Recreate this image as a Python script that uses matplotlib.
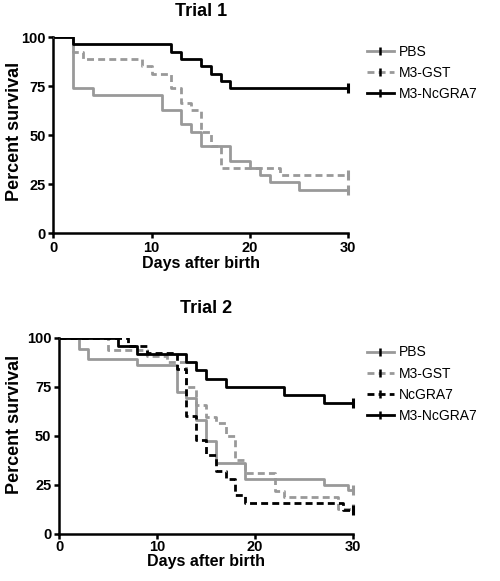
import matplotlib
matplotlib.use("Agg")
import matplotlib.pyplot as plt
from matplotlib.lines import Line2D

plt.rcParams['font.family'] = ['Liberation Sans', 'DejaVu Sans']

# === Trial 1 data (days, percent survival) ===
t1_pbs_days = [0, 2, 4, 11, 13, 14, 15, 18, 20, 21, 22, 25, 30]
t1_pbs_surv = [100, 74.1, 70.4, 63.0, 55.6, 51.9, 44.4, 37.0, 33.3, 29.6, 25.9, 22.2, 22.2]
t1_gst_days = [0, 2, 3, 9, 10, 12, 13, 14, 15, 16, 17, 23, 30]
t1_gst_surv = [100, 92.6, 88.9, 85.2, 81.5, 74.1, 66.7, 63.0, 51.9, 44.4, 33.3, 29.6, 29.6]
t1_m3gra7_days = [0, 2, 12, 13, 15, 16, 17, 18, 30]
t1_m3gra7_surv = [100, 96.3, 92.6, 88.9, 85.2, 81.5, 77.8, 74.1, 74.1]

# === Trial 2 data ===
t2_pbs_days = [0, 2, 3, 8, 12, 13, 14, 15, 16, 19, 27, 29.5, 30]
t2_pbs_surv = [100, 94.4, 88.9, 86.1, 72.2, 69.4, 58.3, 47.2, 36.1, 27.8, 25.0, 22.2, 22.2]
t2_gst_days = [0, 5, 9, 11, 13, 14, 15, 16, 17, 18, 19, 22, 23, 28.5, 30]
t2_gst_surv = [100, 93.8, 90.6, 87.5, 75.0, 65.6, 59.4, 56.3, 50.0, 37.5, 31.3, 21.9, 18.8, 12.5, 12.5]
t2_gra7_days = [0, 7, 9, 12, 13, 14, 15, 16, 17, 18, 19, 29, 30]
t2_gra7_surv = [100, 96, 92, 84, 60, 48, 40, 32, 28, 20, 16, 12, 12]
t2_m3gra7_days = [0, 6, 8, 13, 14, 15, 17, 23, 27, 30]
t2_m3gra7_surv = [100, 95.8, 91.7, 87.5, 83.3, 79.2, 75.0, 70.8, 66.7, 66.7]

GRAY = "#999999"
styles = {
    "PBS": dict(color=GRAY, ls="-"),
    "M3-GST": dict(color=GRAY, ls=(0, (2.5, 1.5))),
    "NcGRA7": dict(color="black", ls=(0, (2.5, 1.5))),
    "M3-NcGRA7": dict(color="black", ls="-"),
}

fig = plt.figure(figsize=(5.0, 5.81), dpi=100)
ax1 = fig.add_axes([0.1067, 0.5985, 0.59, 0.3374])
ax2 = fig.add_axes([0.118, 0.0809, 0.588, 0.3379])

def draw_curves(ax, series):
    for name, days, surv in series:
        st = styles[name]
        ax.step(days, surv, where="post", color=st["color"], ls=st["ls"], lw=2.0,
                solid_capstyle="butt", dash_capstyle="butt", zorder=3)
        # censor tick at end of follow-up
        ax.plot(days[-1], surv[-1], marker="|", ms=7, mew=2.2, color=st["color"], zorder=4,
                clip_on=False)

def style_axes(ax, title, tpad, ylab_x, ylab_y, xpad, xlpad):
    ax.set_xlim(0, 30)
    ax.set_ylim(0, 100)
    ax.set_xticks([0, 10, 20, 30])
    ax.set_yticks([0, 25, 50, 75, 100])
    for s in ["top", "right"]:
        ax.spines[s].set_visible(False)
    for s in ["left", "bottom"]:
        ax.spines[s].set_linewidth(1.8)
    ax.tick_params(width=1.8, length=3.5, labelsize=10.5, pad=2)
    ax.tick_params(axis="x", pad=xpad)
    for lab in ax.get_xticklabels() + ax.get_yticklabels():
        lab.set_fontweight("bold")
    ax.set_xlabel("Days after birth", fontsize=11.5, fontweight="bold", labelpad=xlpad)
    ax.set_ylabel("Percent survival", fontsize=13, fontweight="bold")
    ax.yaxis.set_label_coords(ylab_x, ylab_y)
    ax.set_title(title, fontsize=13, fontweight="bold", pad=tpad)

def add_legend(ax, names, top):
    handles = []
    for n in names:
        st = styles[n]
        handles.append(Line2D([], [], color=st["color"], ls=st["ls"], lw=2.0, marker="|",
                              ms=6, mew=1.8, markeredgecolor="black"))
    ax.legend(handles, names, loc="upper left", bbox_to_anchor=(0.733, top),
              bbox_transform=fig.transFigure, frameon=False, borderpad=0, borderaxespad=0,
              handlelength=2.0, handletextpad=0.35, labelspacing=0.52, fontsize=10,
              numpoints=1)

draw_curves(ax1, [("PBS", t1_pbs_days, t1_pbs_surv),
                  ("M3-GST", t1_gst_days, t1_gst_surv),
                  ("M3-NcGRA7", t1_m3gra7_days, t1_m3gra7_surv)])
style_axes(ax1, "Trial 1", 15.5, -0.103, 0.52, 2, 1)
add_legend(ax1, ["PBS", "M3-GST", "M3-NcGRA7"], 1 - 44.5 / 581)

draw_curves(ax2, [("PBS", t2_pbs_days, t2_pbs_surv),
                  ("M3-GST", t2_gst_days, t2_gst_surv),
                  ("NcGRA7", t2_gra7_days, t2_gra7_surv),
                  ("M3-NcGRA7", t2_m3gra7_days, t2_m3gra7_surv)])
style_axes(ax2, "Trial 2", 17.5, -0.122, 0.56, 0.5, 0.5)
add_legend(ax2, ["PBS", "M3-GST", "NcGRA7", "M3-NcGRA7"], 1 - 345.5 / 581)

fig.savefig("out.png", dpi=100)
